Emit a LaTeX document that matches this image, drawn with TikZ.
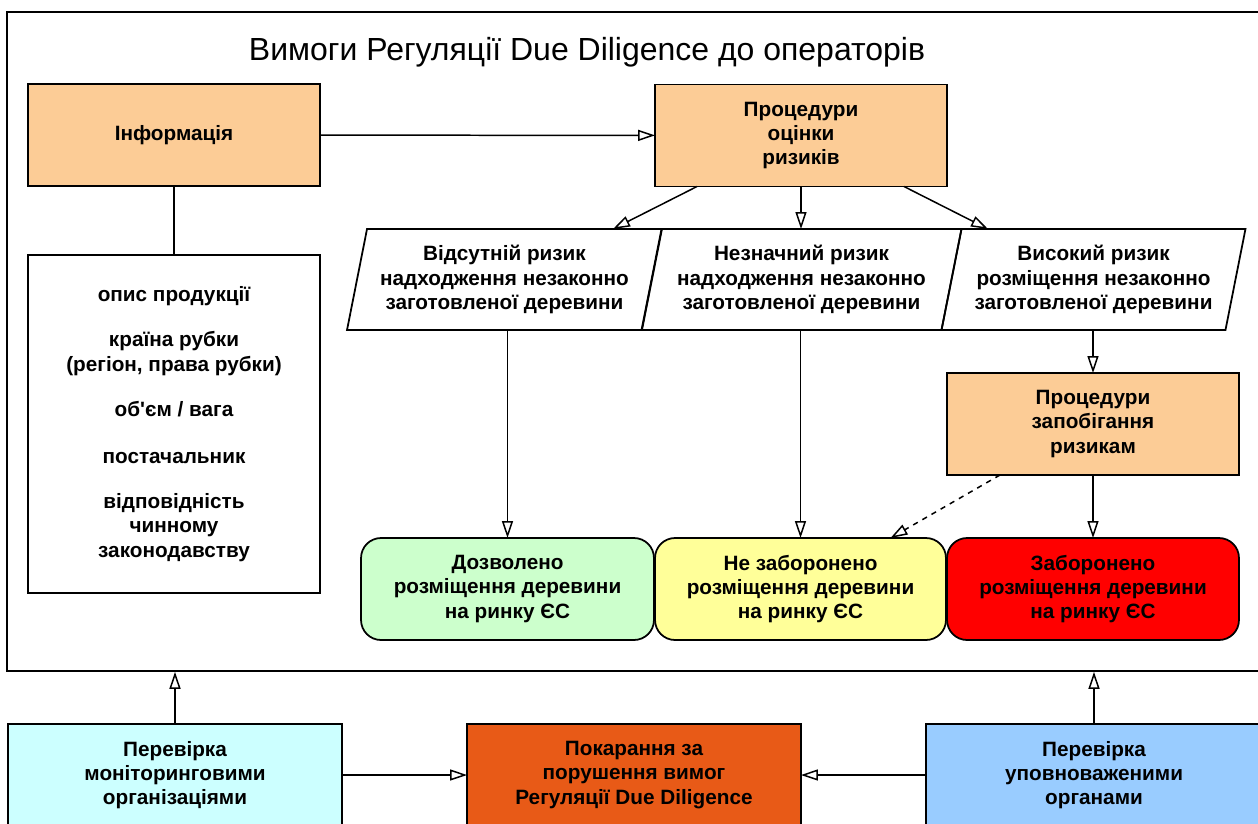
\documentclass[tikz,border=0pt]{standalone}
\usepackage{fontspec}
\setmainfont{Liberation Sans}
\usetikzlibrary{arrows.meta}
\definecolor{procfill}{HTML}{FCCC96}
\definecolor{okfill}{HTML}{CCFFCC}
\definecolor{maybefill}{HTML}{FFFF99}
\definecolor{nofill}{HTML}{FF0000}
\definecolor{monfill}{HTML}{CCFFFF}
\definecolor{penfill}{HTML}{E85A17}
\definecolor{authfill}{HTML}{99CCFF}
\begin{document}
\begin{tikzpicture}[x=0.02cm,y=-0.02cm,
	>={Triangle[open,length=0.34cm,width=0.22cm]},
	txt/.style={font=\fontsize{11.8}{13.8}\selectfont\bfseries,align=center,inner sep=0pt,outer sep=0pt},
	box/.style={txt,draw,line width=1pt,minimum width=5.84cm,minimum height=2.04cm},
	outcome/.style={box,rounded corners=0.4cm},
	risk/.style={txt,minimum height=2.02cm},
	link/.style={->,line width=0.85pt}]
	\useasboundingbox (0,0) rectangle (1258,823);
	\clip (0,0) rectangle (1258,823);
	\node[draw,line width=1pt,minimum width=25.1cm,minimum height=13.18cm,inner sep=0pt] at (634.5,341.5) (frame) {};
	\node[font=\fontsize{18.2}{22}\selectfont] at (587,52) (title) {Вимоги Регуляції Due Diligence до операторів};
	\node[box,fill=procfill] at (174,135) (info) {Інформація};
	\node[box,minimum height=6.76cm] at (174,424) (list) {опис продукції\\[0.42cm]
		країна рубки\\(регіон, права рубки)\\[0.42cm]
		об\textquotesingle єм / вага\\[0.46cm]
		постачальник\\[0.42cm]
		відповідність\\чинному\\законодавству};
	\node[box,fill=procfill] at (801,135.5) (assess) {Процедури\\оцінки\\ризиків};
	\node[risk,minimum width=5.9cm] at (504.5,279.5) (none) {Відсутній ризик\\надходження незаконно\\заготовленої деревини};
	\node[risk,minimum width=6cm] at (801.5,279.5) (low) {Незначний ризик\\надходження незаконно\\заготовленої деревини};
	\node[risk,minimum width=5.68cm] at (1093.5,279.5) (high) {Високий ризик\\розміщення незаконно\\заготовленої деревини};
	\foreach \p in {none,low,high}
		\draw[line width=1pt] ([xshift=0.2cm]\p.north west) -- ([xshift=0.2cm]\p.north east)
			-- ([xshift=-0.2cm]\p.south east) -- ([xshift=-0.2cm]\p.south west) -- cycle;
	\node[box,fill=procfill] at (1093,424) (prevent) {Процедури\\запобігання\\ризикам};
	\node[outcome,fill=okfill,minimum width=5.86cm] at (507.5,589) (ok) {Дозволено\\розміщення деревини\\на ринку ЄС};
	\node[outcome,fill=maybefill,minimum width=5.82cm] at (800.5,589) (maybe) {Не заборонено\\розміщення деревини\\на ринку ЄС};
	\node[outcome,fill=nofill] at (1093,589) (no) {Заборонено\\розміщення деревини\\на ринку ЄС};
	\node[box,fill=monfill,minimum width=6.68cm] at (175,775) (monitor) {Перевірка\\моніторинговими\\організаціями};
	\node[box,fill=penfill,minimum width=6.68cm] at (634,775) (penalty) {Покарання за\\порушення вимог\\Регуляції Due Diligence};
	\node[box,fill=authfill,minimum width=6.72cm] at (1094,775) (auth) {Перевірка\\уповноваженими\\органами};
	\draw[link] (info) -- (assess);
	\draw[line width=0.85pt] (info) -- (list);
	\draw[link] ([xshift=-2.08cm]assess.south) -- ([xshift=-0.78cm]none.north east);
	\draw[link] (assess.south) -- (assess.south |- low.north);
	\draw[link] ([xshift=2.06cm]assess.south) -- ([xshift=0.73cm]high.north west);
	\draw[link] (ok.north |- none.south) -- (ok.north);
	\draw[link] (maybe.north |- low.south) -- (maybe.north);
	\draw[link] (prevent.north |- high.south) -- (prevent.north);
	\draw[link] (prevent) -- (no);
	\draw[link,dashed] ([xshift=-1.86cm]prevent.south) -- ([xshift=1.8cm]maybe.north);
	\draw[link] (monitor.north) -- (monitor.north |- frame.south);
	\draw[link] (auth.north) -- (auth.north |- frame.south);
	\draw[link] (monitor) -- (penalty);
	\draw[link] (auth) -- (penalty);
\end{tikzpicture}
\end{document}
